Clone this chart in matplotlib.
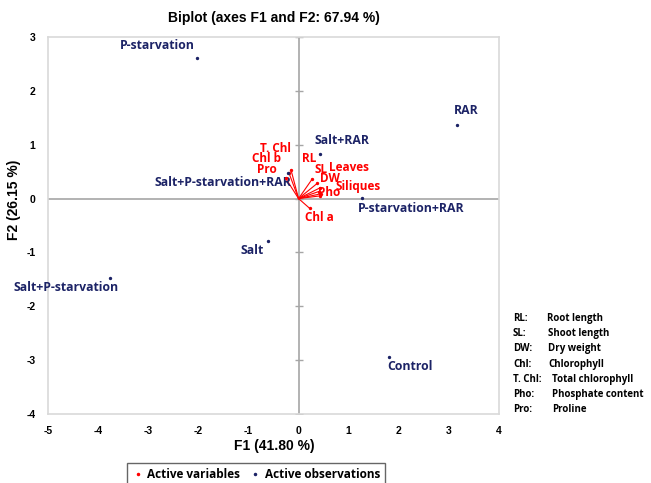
import numpy as np
import matplotlib
matplotlib.use("Agg")
import matplotlib.pyplot as plt
from matplotlib.lines import Line2D

# observations (F1, F2 scores)
obs_names = ["P-starvation", "RAR", "Salt+RAR", "Salt+P-starvation+RAR",
             "P-starvation+RAR", "Salt", "Salt+P-starvation", "Control"]
obs_f1 = [-2.03, 3.16, 0.43, -0.21, 1.27, -0.61, -3.76, 1.81]
obs_f2 = [2.61, 1.37, 0.83, 0.48, 0.01, -0.79, -1.47, -2.94]

# variables (loadings)
var_names = ["T. Chl", "Chl b", "Pro", "RL", "SL", "Leaves", "DW", "Siliques", "Pho", "Chl a"]
var_f1 = [-0.15, -0.19, -0.26, 0.27, 0.37, 0.43, 0.40, 0.45, 0.43, 0.22]
var_f2 = [0.53, 0.47, 0.38, 0.36, 0.28, 0.20, 0.13, 0.09, 0.05, -0.18]

abbrev = ["RL:", "SL:", "DW:", "Chl:", "T. Chl:", "Pho:", "Pro:"]
meaning = ["Root length", "Shoot length", "Dry weight", "Chlorophyll",
           "Total chlorophyll", "Phosphate content", "Proline"]

# label placement (offset in pixels, horizontal alignment)
obs_off = [(-40, 13, "center"), (9, 14, "center"), (22, 13, "center"), (3, -9.5, "right"),
           (-4, -10, "left"), (-16, -9, "center"), (-44, -10, "center"), (-2, -10, "left")]
var_off = [(-16, 22), (-23, 14.5), (-19, 9), (-3, 20.5), (3.5, 14),
           (28.5, 20.5), (11, 13), (37, 7), (9, 3), (10, -9)]
meaning_x = [547, 548, 548, 548, 552, 552, 552]

navy = "#1c2366"
red = "#ff0000"
lab_font = ["Open Sans", "DejaVu Sans"]
narrow = ["Liberation Sans Narrow", "Liberation Sans", "DejaVu Sans"]

W, H = 651, 483
fig = plt.figure(figsize=(W / 100, H / 100), dpi=100)
ax = fig.add_axes([48 / W, 1 - 414 / H, (499 - 48) / W, (414 - 37) / H])
ax.set_xlim(-5, 4)
ax.set_ylim(-4, 3)

for s in ax.spines.values():
    s.set_color("#d9d9d9")
    s.set_linewidth(1.2)
ax.axhline(0, color="#a6a6a6", lw=1.2, zorder=1)
ax.axvline(0, color="#a6a6a6", lw=1.2, zorder=1)
# small tick marks along the vertical zero line
ax.plot(np.zeros(8), np.arange(-4, 4), ls="none", marker="_", ms=6, color="#a6a6a6", mew=1)

ax.set_xticks(np.arange(-5, 5))
ax.set_yticks(np.arange(-4, 4))
ax.tick_params(length=0, pad=9, labelsize=7.5)
ax.set_xticklabels([f"{v}" for v in range(-5, 5)])
ax.set_yticklabels([f"{v}" for v in range(-4, 4)])
for t in ax.get_xticklabels() + ax.get_yticklabels():
    t.set_fontfamily(narrow)
    t.set_fontweight("bold")

# variable vectors
for x, y in zip(var_f1, var_f2):
    ax.plot([0, x], [0, y], color=red, lw=0.8, zorder=3)
ax.scatter(var_f1, var_f2, s=2, color=red, zorder=4)
for name, x, y, (dx, dy) in zip(var_names, var_f1, var_f2, var_off):
    ax.annotate(name, (x, y), xytext=(dx * 0.72, dy * 0.72), textcoords="offset points",
                ha="center", va="center", color=red, fontsize=8.5, fontweight="bold",
                family=lab_font)

# observations
ax.scatter(obs_f1, obs_f2, s=2, color=navy, zorder=4)
for name, x, y, (dx, dy, ha) in zip(obs_names, obs_f1, obs_f2, obs_off):
    ax.annotate(name, (x, y), xytext=(dx * 0.72, dy * 0.72), textcoords="offset points",
                ha=ha, va="center", color=navy, fontsize=8.8, fontweight="bold",
                family=lab_font)

fig.text(274 / W, 1 - 18 / H, "Biplot (axes F1 and F2: 67.94 %)", ha="center", va="center",
         fontsize=10, fontweight="bold", family=narrow)
fig.text(274 / W, 1 - 446 / H, "F1 (41.80 %)", ha="center", va="center",
         fontsize=10, fontweight="bold", family=narrow)
fig.text(14 / W, 1 - 200 / H, "F2 (26.15 %)", ha="center", va="center", rotation=90,
         fontsize=10, fontweight="bold", family=narrow)

# abbreviation key
for i, (a, m, mx) in enumerate(zip(abbrev, meaning, meaning_x)):
    yy = 1 - (321 + 15.2 * i) / H
    fig.text(513 / W, yy, a, ha="left", va="baseline", fontsize=7, fontweight="bold", family=lab_font)
    fig.text(mx / W, yy, m, ha="left", va="baseline", fontsize=7, fontweight="bold", family=lab_font)

handles = [Line2D([], [], ls="none", marker="o", ms=1.5, color=red),
           Line2D([], [], ls="none", marker="o", ms=1.5, color=navy)]
leg = fig.legend(handles, ["Active variables", "Active observations"], ncol=2,
                 loc="upper center", bbox_to_anchor=(256 / W, 1 - 463 / H),
                 frameon=True, fancybox=False, borderaxespad=0, handletextpad=0.3,
                 columnspacing=0.8, handlelength=1.0,
                 prop={"family": lab_font, "weight": "bold", "size": 8.5})
leg.get_frame().set_edgecolor("#404040")
leg.get_frame().set_linewidth(1)

fig.savefig("out.png", dpi=100)
